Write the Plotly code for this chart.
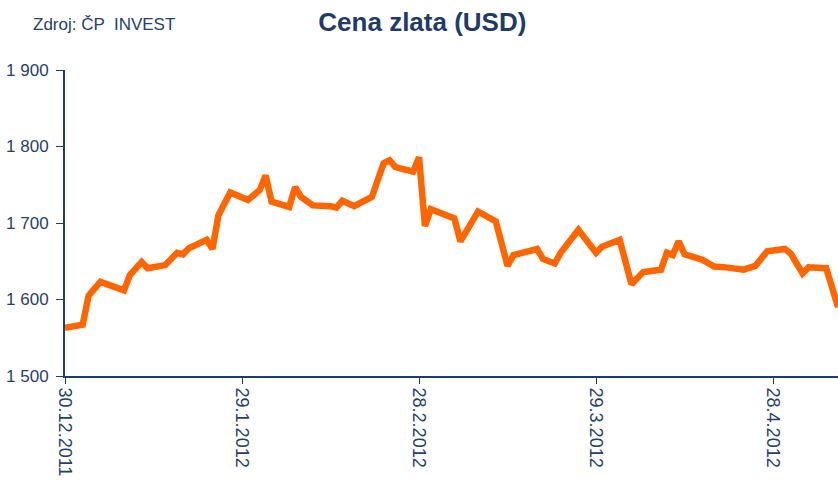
import plotly.graph_objects as go

# Cena zlata (USD), 30.12.2011 - 9.5.2012
dates = [
    "2011-12-30", "2012-01-02", "2012-01-03", "2012-01-05", "2012-01-09",
    "2012-01-10", "2012-01-12", "2012-01-13", "2012-01-16", "2012-01-18",
    "2012-01-19", "2012-01-20", "2012-01-23", "2012-01-24", "2012-01-25",
    "2012-01-27", "2012-01-30", "2012-02-01", "2012-02-02", "2012-02-03",
    "2012-02-06", "2012-02-07", "2012-02-08", "2012-02-10", "2012-02-13",
    "2012-02-14", "2012-02-15", "2012-02-17", "2012-02-20", "2012-02-22",
    "2012-02-23", "2012-02-24", "2012-02-27", "2012-02-28", "2012-02-29",
    "2012-03-01", "2012-03-05", "2012-03-06", "2012-03-09", "2012-03-12",
    "2012-03-14", "2012-03-15", "2012-03-17", "2012-03-19", "2012-03-20",
    "2012-03-22", "2012-03-23", "2012-03-26", "2012-03-29", "2012-03-30",
    "2012-04-02", "2012-04-04", "2012-04-06", "2012-04-09", "2012-04-10",
    "2012-04-11", "2012-04-12", "2012-04-13", "2012-04-16", "2012-04-18",
    "2012-04-20", "2012-04-23", "2012-04-25", "2012-04-27", "2012-04-30",
    "2012-05-01", "2012-05-03", "2012-05-04", "2012-05-07", "2012-05-09",
]
prices = [
    1563, 1567, 1605, 1623, 1612,
    1632, 1649, 1641, 1645, 1661,
    1659, 1667, 1678, 1666, 1710,
    1740, 1730, 1743, 1762, 1728,
    1721, 1747, 1734, 1723, 1722,
    1720, 1729, 1722, 1734, 1778,
    1782, 1773, 1767, 1786, 1696,
    1718, 1706, 1676, 1715, 1702,
    1644, 1658, 1662, 1666, 1653,
    1647, 1661, 1691, 1661, 1669,
    1678, 1620, 1636, 1639, 1661,
    1658, 1676, 1659, 1652, 1643,
    1642, 1639, 1644, 1663, 1666,
    1660, 1634, 1642, 1641, 1590,
]

tick_dates = ["2011-12-30", "2012-01-29", "2012-02-28", "2012-03-29", "2012-04-28"]
tick_labels = ["30.12.2011", "29.1.2012", "28.2.2012", "29.3.2012", "28.4.2012"]

NAVY = "#1F3B68"
LABEL = "#26406A"
ORANGE = "#FF6600"

fig = go.Figure()

fig.add_trace(go.Scatter(
    x=dates,
    y=prices,
    mode="lines",
    line=dict(color=ORANGE, width=6.5),
    showlegend=False
))

fig.update_layout(
    width=838,
    height=483,
    margin=dict(l=65, r=0, t=70, b=107),
    plot_bgcolor="white",
    paper_bgcolor="white",
    separators=", ",
    font=dict(family="Liberation Sans, Arial, sans-serif", size=17, color=LABEL),
    title=dict(
        text="<b>Cena zlata (USD)</b>",
        x=0.504, xref="container", xanchor="center",
        y=0.955, yref="container", yanchor="middle",
        font=dict(size=26, color=NAVY)
    ),
    annotations=[dict(
        text="Zdroj: ČP  INVEST",
        xref="paper", yref="paper",
        x=-0.044, y=1.15,
        xanchor="left", yanchor="middle",
        showarrow=False,
        font=dict(size=17, color=LABEL)
    )]
)

fig.update_xaxes(
    range=["2011-12-30", "2012-05-09"],
    tickvals=tick_dates,
    ticktext=tick_labels,
    tickangle=90,
    ticks="outside",
    ticklen=6,
    tickcolor=NAVY,
    showline=True,
    linecolor=NAVY,
    linewidth=2,
    showgrid=False,
    zeroline=False,
    tickfont=dict(size=18, color=LABEL)
)

fig.update_yaxes(
    range=[1500, 1900],
    dtick=100,
    tickformat=",d",
    ticks="outside",
    ticklen=7,
    ticklabelstandoff=4,
    tickcolor=NAVY,
    showline=True,
    linecolor=NAVY,
    linewidth=2,
    showgrid=False,
    zeroline=False,
    tickfont=dict(size=17, color=LABEL)
)

# drop the default body margin so the figure fills the window exactly
fig.write_html(
    "out.html",
    config={"displayModeBar": False},
    post_script="document.body.style.margin='0';"
)
